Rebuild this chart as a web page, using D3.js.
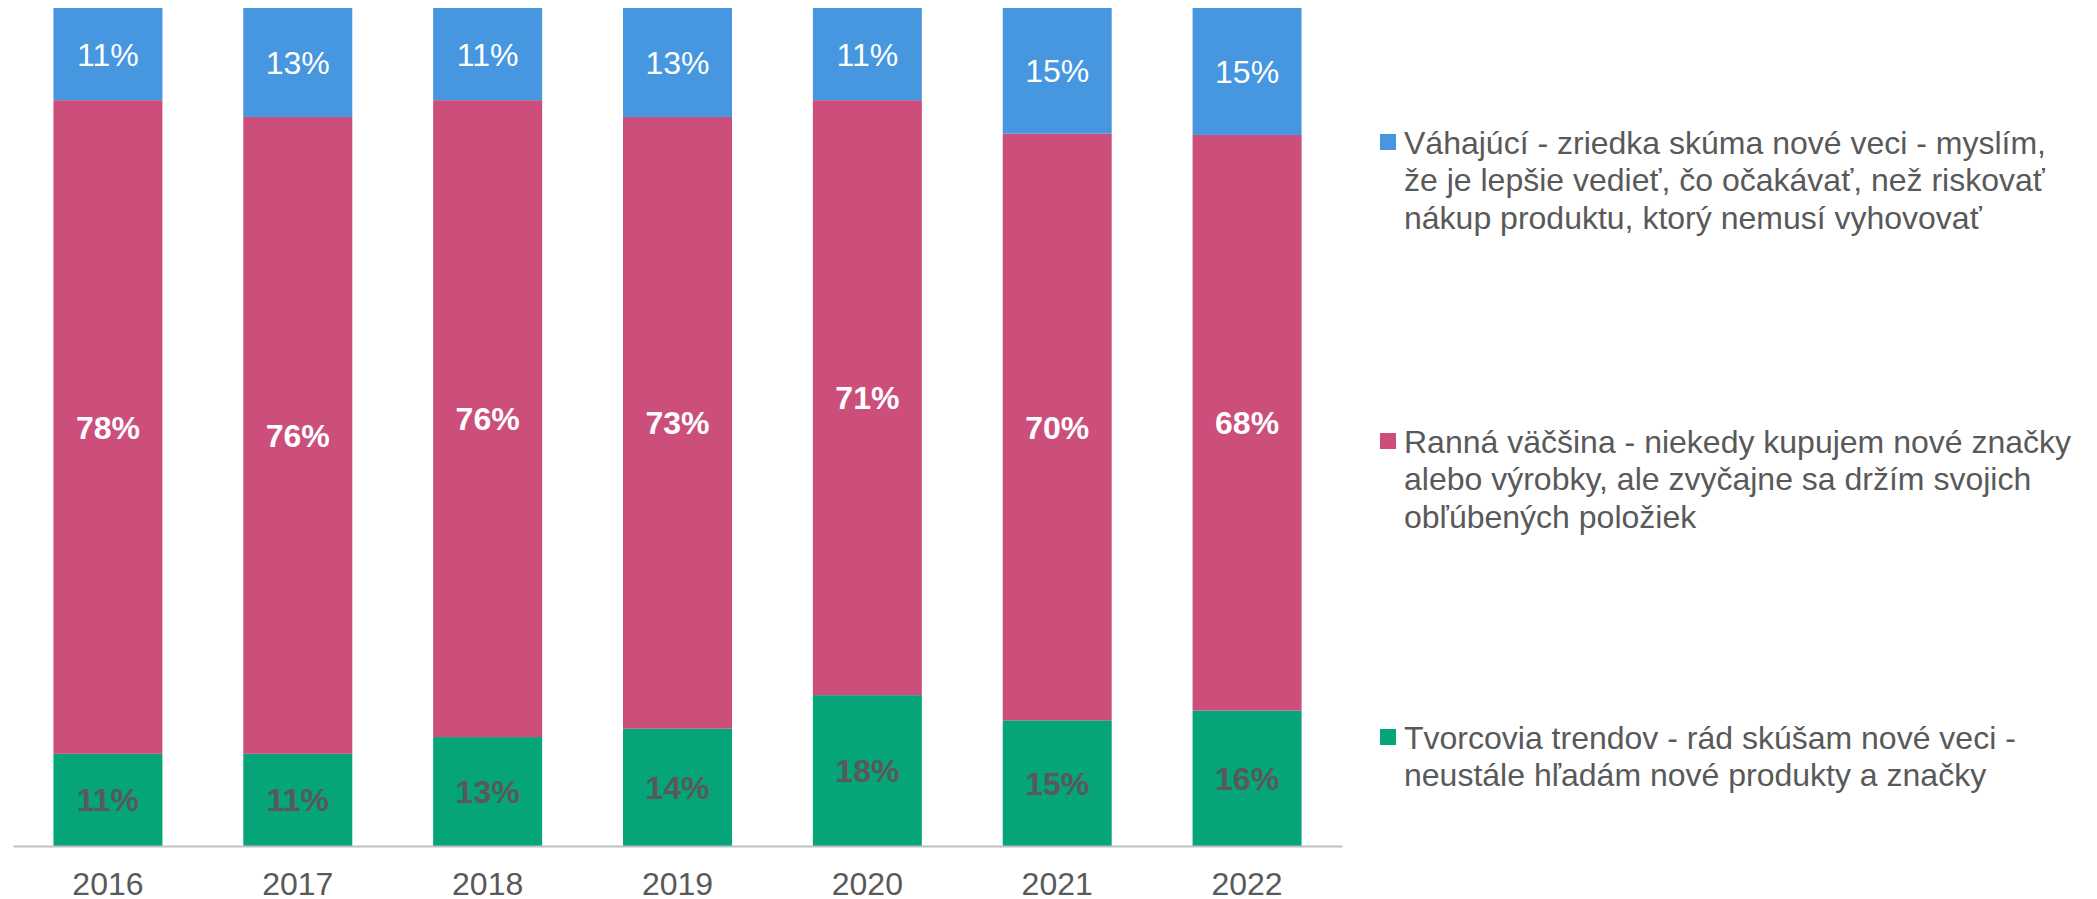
<!DOCTYPE html>
<html>
<head>
<meta charset="utf-8">
<script src="https://cdn.jsdelivr.net/npm/d3@7"></script>
<style>
  body { margin: 0; background: #fff; }
  text { font-family: "Liberation Sans", Arial, sans-serif; }
</style>
</head>
<body>
<div id="chart"></div>
<script>
const width = 2097, height = 899;

// data
const years = ["2016", "2017", "2018", "2019", "2020", "2021", "2022"];
const trendsetters = [11, 11, 13, 14, 18, 15, 16];   // Tvorcovia trendov
const earlyMajority = [78, 76, 76, 73, 71, 70, 68];  // Ranná väčšina
const hesitant = [11, 13, 11, 13, 11, 15, 15];       // Váhajúci

const seriesInfo = [
  { id: "trend", values: trendsetters, color: "#05A479", labelColor: "#595959", weight: "bold",
    legend: ["Tvorcovia trendov - rád skúšam nové veci -", "neustále hľadám nové produkty a značky"] },
  { id: "early", values: earlyMajority, color: "#CB4E7B", labelColor: "#ffffff", weight: "bold",
    legend: ["Ranná väčšina - niekedy kupujem nové značky", "alebo výrobky, ale zvyčajne sa držím svojich", "obľúbených položiek"] },
  { id: "hes", values: hesitant, color: "#4697E0", labelColor: "#ffffff", weight: "normal",
    legend: ["Váhajúcí - zriedka skúma nové veci - myslím,", "že je lepšie vedieť, čo očakávať, než riskovať", "nákup produktu, ktorý nemusí vyhovovať"] }
];

const data = years.map((y, i) => {
  const row = { year: y };
  seriesInfo.forEach(s => row[s.id] = s.values[i]);
  return row;
});

const svg = d3.select("#chart")
  .append("svg")
    .attr("width", width)
    .attr("height", height);

/* scales */
const xScale = d3.scaleBand()
  .domain(years)
  .range([13, 1342])
  .paddingInner(0.426)
  .paddingOuter(0.213);

const yScale = d3.scaleLinear()
  .domain([0, 1])
  .range([846, 8]);

/* stack, normalised to 100% */
const stacked = d3.stack()
  .keys(seriesInfo.map(s => s.id))
  .offset(d3.stackOffsetExpand)(data);

const groups = svg.append("g")
  .selectAll("g")
  .data(stacked)
  .join("g")
    .attr("fill", (d, i) => seriesInfo[i].color);

groups.selectAll("rect")
  .data(d => d)
  .join("rect")
    .attr("x", d => xScale(d.data.year))
    .attr("width", xScale.bandwidth())
    .attr("y", d => yScale(d[1]))
    .attr("height", d => yScale(d[0]) - yScale(d[1]));

// value labels
groups.each(function(layer, i) {
  const s = seriesInfo[i];
  d3.select(this).selectAll("text")
    .data(layer)
    .join("text")
      .attr("x", d => xScale(d.data.year) + xScale.bandwidth() / 2)
      .attr("y", d => (yScale(d[0]) + yScale(d[1])) / 2)
      .attr("dy", "0.36em")
      .attr("text-anchor", "middle")
      .attr("font-size", 32)
      .attr("font-weight", s.weight)
      .attr("fill", s.labelColor)
      .text(d => d.data[s.id] + "%");
});

/* x axis */
const xAxis = d3.axisBottom(xScale).tickSize(0).tickPadding(26);
const axisG = svg.append("g")
  .attr("transform", "translate(0,846)")
  .call(xAxis);
axisG.select(".domain").attr("stroke", "#BFBFBF").attr("stroke-width", 2);
axisG.selectAll("text")
  .attr("font-size", 32)
  .attr("fill", "#595959")
  .style("font-family", "'Liberation Sans', Arial, sans-serif");

/* legend */
const legendTops = { hes: 142, early: 441, trend: 737 };
const legend = svg.append("g")
  .selectAll("g")
  .data(seriesInfo)
  .join("g")
    .attr("transform", d => `translate(1380, ${legendTops[d.id]})`);

legend.append("rect")
  .attr("y", -8)
  .attr("width", 16)
  .attr("height", 16)
  .attr("fill", d => d.color);

legend.append("text")
  .attr("fill", "#595959")
  .attr("font-size", 32)
  .selectAll("tspan")
  .data(d => d.legend)
  .join("tspan")
    .attr("x", 24)
    .attr("y", (d, i) => i * 37.5)
    .attr("dy", "0.36em")
    .text(d => d);
</script>
</body>
</html>
